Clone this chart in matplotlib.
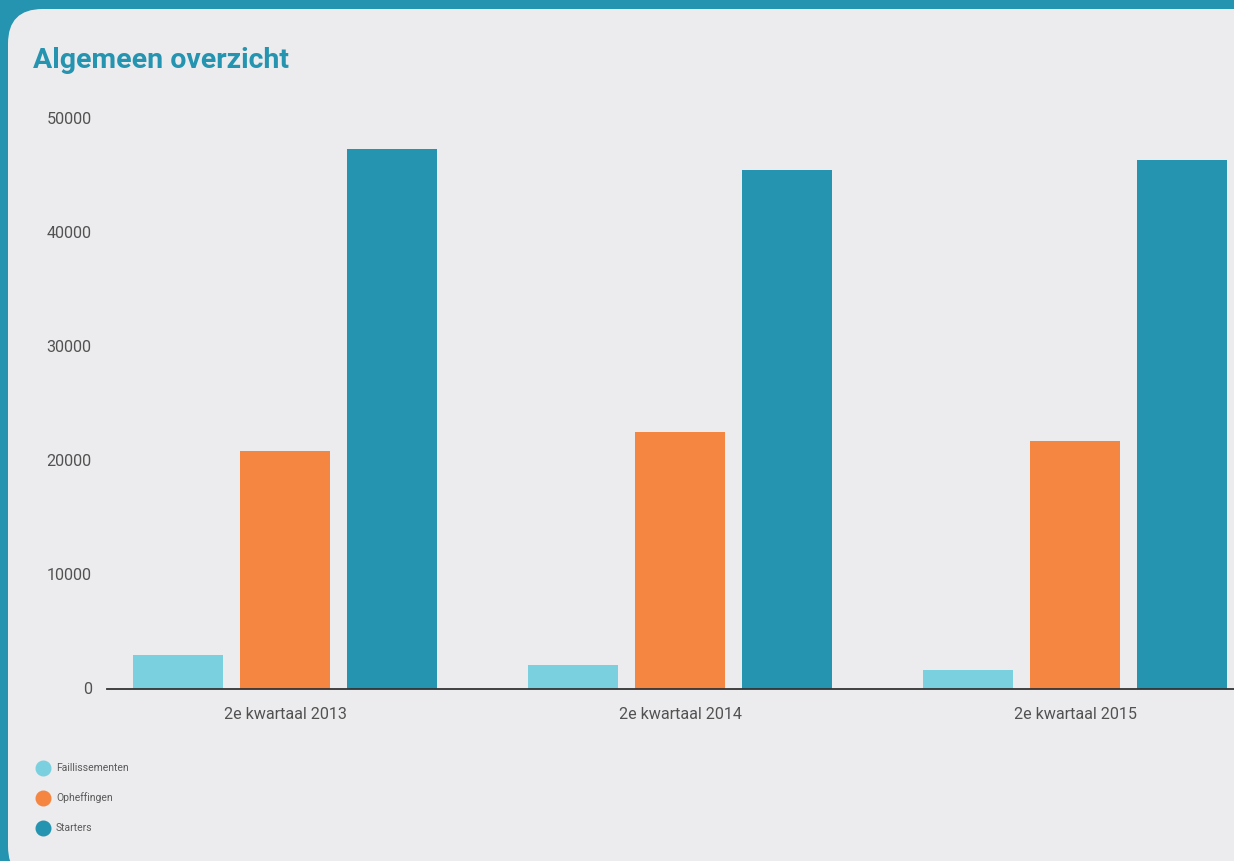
import matplotlib
matplotlib.use("Agg")
import matplotlib.pyplot as plt
import numpy as np
from matplotlib.patches import FancyBboxPatch
from matplotlib.lines import Line2D

categories = ["2e kwartaal 2013", "2e kwartaal 2014", "2e kwartaal 2015"]
series_names = ["Faillissementen", "Opheffingen", "Starters"]
faillissementen = [2950, 2050, 1620]
opheffingen = [20830, 22500, 21710]
starters = [47320, 45480, 46360]
yticks = [0, 10000, 20000, 30000, 40000, 50000]

colors = ["#7BD0E0", "#F58642", "#2594B0"]
bg = "#ECECEE"
teal = "#2594B0"

plt.rcParams['font.family'] = ['Roboto', 'DejaVu Sans']

W, H = 1234, 861
fig = plt.figure(figsize=(W/100, H/100), dpi=100)
fig.patch.set_facecolor(teal)

panel = FancyBboxPatch((8/W, -20/H), (W + 40 - 8)/W, (H - 9 + 20)/H,
                       boxstyle="round,pad=0,rounding_size=0.028",
                       transform=fig.transFigure, facecolor=bg, edgecolor="none",
                       mutation_aspect=W/H, zorder=0)
fig.add_artist(panel)

ax_left = 107/W
ax_bottom = (H - 688.5)/H
ax_height = 570/H
ax = fig.add_axes([ax_left, ax_bottom, 1 - ax_left, ax_height])
ax.set_facecolor("none")

x = np.arange(len(categories))
bw = 90/395
off = 107/395
for i, (vals, c) in enumerate(zip([faillissementen, opheffingen, starters], colors)):
    ax.bar(x + (i - 1)*off, vals, width=bw, color=c, zorder=2)

ax.set_xlim(-178/395, (1234 - 285)/395)
ax.set_ylim(0, 50000)
ax.set_yticks(yticks)
ax.set_yticklabels([str(t) for t in yticks], fontsize=11.6, color="#525252")
ax.set_xticks(x)
ax.set_xticklabels(categories, fontsize=11.6, color="#525252")
ax.tick_params(axis='y', length=0, pad=11)
ax.tick_params(axis='x', length=0, pad=13)
for s in ["top", "right", "left"]:
    ax.spines[s].set_visible(False)
ax.spines["bottom"].set_color("#333333")
ax.spines["bottom"].set_linewidth(1.3)
ax.spines["bottom"].set_zorder(3)

fig.text(33/W, 1 - 60/H, "Algemeen overzicht", fontsize=20.5, fontweight="bold",
         color=teal, va="center", ha="left")

for i, (name, c) in enumerate(zip(series_names, colors)):
    yy = 1 - (768 + 30*i)/H
    fig.add_artist(Line2D([43/W], [yy], marker='o', markersize=10.5, color=c,
                          linestyle='none', transform=fig.transFigure))
    fig.text(56/W, yy, name, fontsize=7.5, color="#5a5a5a", va="center", ha="left")

fig.savefig("out.png", dpi=100, facecolor=fig.get_facecolor())
